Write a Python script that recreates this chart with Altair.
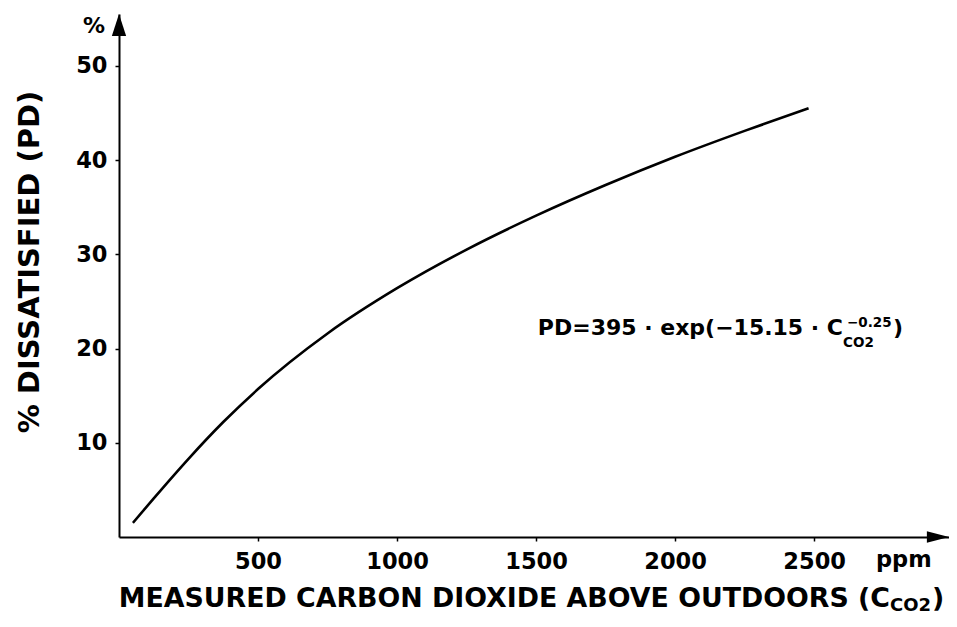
import altair as alt
import pandas as pd

# ---- data ----
co2_ppm = [50, 125, 250, 375, 500, 750, 1000, 1250, 1500, 1750, 2000, 2250, 2480]
pd_percent = [1.5, 4.1, 8.3, 12.2, 15.7, 21.6, 26.4, 30.5, 34.1, 37.35, 40.35, 43.1, 45.5]
x_ticks = [500, 1000, 1500, 2000, 2500]
y_ticks = [10, 20, 30, 40, 50]
x_max = 2985
y_max = 55.5

FONT = "DejaVu Sans"

df = pd.DataFrame({"co2": co2_ppm, "pd": pd_percent})
xs = alt.Scale(domain=[0, x_max], nice=False, zero=False)
ys = alt.Scale(domain=[0, y_max], nice=False, zero=False)

curve = alt.Chart(df).mark_line(
    color="black", strokeWidth=2.6, interpolate="monotone"
).encode(
    x=alt.X("co2:Q", scale=xs, axis=alt.Axis(values=x_ticks, title=None, format="d",
                                             labelPadding=9, labelFlush=False)),
    y=alt.Y("pd:Q", scale=ys, axis=alt.Axis(values=y_ticks, title=None, format="d",
                                            labelPadding=8, labelFlush=False)),
)

arrow_y = alt.Chart(pd.DataFrame({"x": [0], "y": [y_max]})).mark_point(
    shape="M0,0L0.55,1.7L-0.55,1.7Z", size=676, filled=True, color="black", opacity=1, strokeWidth=0
).encode(x=alt.X("x:Q", scale=xs), y=alt.Y("y:Q", scale=ys))

arrow_x = alt.Chart(pd.DataFrame({"x": [x_max], "y": [0]})).mark_point(
    shape="M0,0L-1.7,-0.45L-1.7,0.45Z", size=676, filled=True, color="black", opacity=1, strokeWidth=0
).encode(x=alt.X("x:Q", scale=xs), y=alt.Y("y:Q", scale=ys))

one = alt.Data(values=[{}])


def txt(s, x, y, size, align="left", baseline="alphabetic", angle=0, weight="bold"):
    return alt.Chart(one).mark_text(
        text=s, font=FONT, fontSize=size, fontWeight=weight, align=align,
        baseline=baseline, angle=angle, color="black"
    ).encode(x=alt.value(x), y=alt.value(y))


texts = [
    txt("%", -25, 19, 22, align="center"),
    txt("ppm", 757, 553, 22.5),
    txt("% DISSATISFIED (PD)", -89, 248, 29, align="center", baseline="middle", angle=270),
    txt("MEASURED CARBON DIOXIDE ABOVE  OUTDOORS (C", 771, 593, 26.8, align="right"),
    txt("CO2", 771, 597, 18),
    txt(")", 813, 593, 26.8),
    txt("PD=395 · exp(−15.15 · C", 724, 321, 22, align="right"),
    txt("CO2", 724, 333, 13.5),
    txt("−0.25", 728, 313, 13.5),
    txt(")", 774, 321, 22),
]

chart = alt.layer(curve, arrow_y, arrow_x, *texts).properties(
    width=830, height=523,
    autosize=alt.AutoSizeParams(type="none"),
    padding={"left": 111, "top": 6, "right": 0, "bottom": 78},
).configure_view(stroke=None).configure_axis(
    grid=False, domainColor="black", domainWidth=2, tickColor="black", tickSize=4,
    tickWidth=1.5, labelFont=FONT, labelFontWeight="bold", labelFontSize=22.5,
    labelColor="black",
).configure_axisY(labelFontSize=22.5)

chart.save("out.html", embed_options={"renderer": "svg", "actions": False})
